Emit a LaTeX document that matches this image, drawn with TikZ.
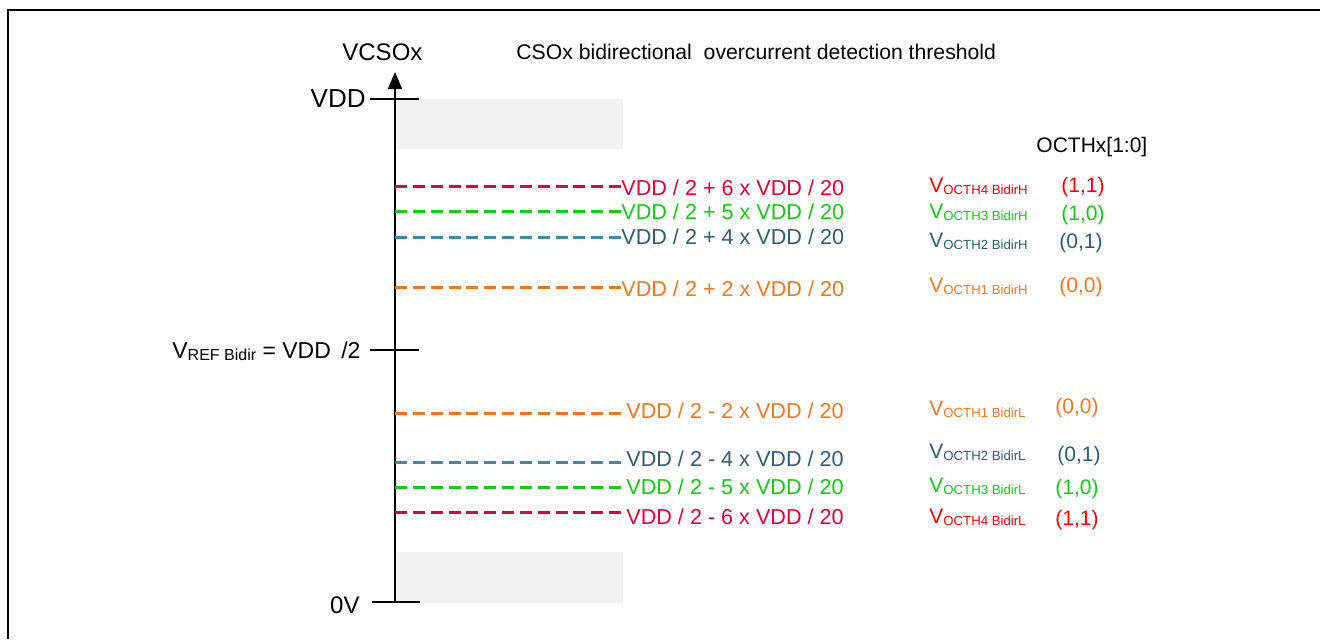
\documentclass[tikz,border=0pt]{standalone}
\usepackage{fontspec}
\setmainfont{Liberation Sans}
\usepackage{tikz}
\usetikzlibrary{arrows.meta}
\definecolor{octRed}{HTML}{E4003A}
\definecolor{octRedB}{HTML}{FF0000}
\definecolor{octGreen}{HTML}{11CC11}
\definecolor{octTeal}{HTML}{3A8CA3}
\definecolor{octTealT}{HTML}{2D5E6E}
\definecolor{octOrange}{HTML}{F07818}
\definecolor{octGrey}{HTML}{F2F2F2}
\newcommand{\octV}[1]{V\raisebox{-1.2pt}{\fontsize{6.6}{7}\selectfont OCTH#1}}

\begin{document}
\begin{tikzpicture}[x=0.5pt,y=-0.5pt, >=Stealth,
  valtxt/.style={anchor=base west,inner sep=0pt,font=\fontsize{10.8}{12}\selectfont},
  codetxt/.style={anchor=base west,inner sep=0pt,font=\fontsize{10.5}{12}\selectfont},
  thr/.style={line width=1.5pt,dash pattern=on 6pt off 2.92pt},
  axtick/.style={line width=0.75pt}]
\useasboundingbox (0,0) rectangle (1320,639);
% --- frame and grey bands ---
  \draw[line width=0.75pt] (8,639) -- (8,10) -- (1320,10);
  \fill[octGrey] (395,99) rectangle (623,149);
  \fill[octGrey] (395,552) rectangle (623,603);
% --- axis ---
  \coordinate (ax0) at (395,602);
  \coordinate (axtop) at (395,72);
  \draw[line width=0.75pt,-{Triangle[width=7pt,length=8.5pt]}] (ax0) -- (axtop);
  \draw[axtick] (370,99) -- (419,99);
  \draw[axtick] (370,350) -- (419,350);
  \draw[axtick] (372,602) -- (420,602);
  \node[anchor=base west,inner sep=0pt,font=\fontsize{12}{14}\selectfont] (vcso) at (342,60) {VCSOx};
  \node[anchor=base west,inner sep=0pt,font=\fontsize{10.6}{12}\selectfont] (title) at (516,59.5) {CSOx bidirectional\ \ overcurrent detection threshold};
  \node[anchor=base east,inner sep=0pt,font=\fontsize{13}{15}\selectfont] (vdd) at (366,107) {VDD};
  \node[anchor=base west,inner sep=0pt,font=\fontsize{11.5}{13}\selectfont] (vref) at (172,358)
    {V\raisebox{-1.2pt}{\fontsize{8}{9}\selectfont REF Bidir} = VDD\hspace{0.45em}/2};
  \node[anchor=base east,inner sep=0pt,font=\fontsize{12}{14}\selectfont] (zero) at (360,613) {0V};
% --- threshold levels ---
  \coordinate (h6) at (395,186);
  \coordinate (h5) at (395,211);
  \coordinate (h4) at (395,237);
  \coordinate (h2) at (395,287);
  \coordinate (l2) at (395,413);
  \coordinate (l4) at (395,462);
  \coordinate (l5) at (395,487);
  \coordinate (l6) at (395,512);
  \node[valtxt,text=octRed] (th6) at (621,195) {VDD / 2 + 6 x VDD / 20};
  \node[valtxt,text=octGreen] (th5) at (621,219) {VDD / 2 + 5 x VDD / 20};
  \node[valtxt,text=octTealT] (th4) at (621,244) {VDD / 2 + 4 x VDD / 20};
  \node[valtxt,text=octOrange] (th2) at (621,296) {VDD / 2 + 2 x VDD / 20};
  \node[valtxt,text=octOrange,inner xsep=2.5pt] (tl2) at (621,418) {VDD / 2 - 2 x VDD / 20};
  \node[valtxt,text=octTealT,inner xsep=2.5pt] (tl4) at (621,466) {VDD / 2 - 4 x VDD / 20};
  \node[valtxt,text=octGreen,inner xsep=2.5pt] (tl5) at (621,494) {VDD / 2 - 5 x VDD / 20};
  \node[valtxt,text=octRed,inner xsep=2.5pt] (tl6) at (621,524) {VDD / 2 - 6 x VDD / 20};
  \draw[thr,octRed] (h6) -- (h6 -| th6.west);
  \draw[thr,octGreen] (h5) -- (h5 -| th5.west);
  \draw[thr,octTeal] (h4) -- (h4 -| th4.west);
  \draw[thr,octOrange] (h2) -- (h2 -| th2.west);
  \draw[thr,octOrange] (l2) -- (l2 -| tl2.west);
  \draw[thr,octTeal] (l4) -- (l4 -| tl4.west);
  \draw[thr,octGreen] (l5) -- (l5 -| tl5.west);
  \draw[thr,octRed] (l6) -- (l6 -| tl6.west);
% --- register codes ---
  \node[codetxt] (octh) at (1036,152) {OCTHx[1:0]};
  \node[codetxt,text=octRedB] (vh4) at (929,192) {\octV{4 BidirH}};
  \node[codetxt,text=octGreen] (vh3) at (929,218) {\octV{3 BidirH}};
  \node[codetxt,text=octTealT] (vh2) at (929,247) {\octV{2 BidirH}};
  \node[codetxt,text=octOrange] (vh1) at (929,292) {\octV{1 BidirH}};
  \node[codetxt,text=octOrange] (vl1) at (929,415) {\octV{1 BidirL}};
  \node[codetxt,text=octTealT] (vl2) at (929,458) {\octV{2 BidirL}};
  \node[codetxt,text=octGreen] (vl3) at (929,492) {\octV{3 BidirL}};
  \node[codetxt,text=octRedB] (vl4) at (929,523) {\octV{4 BidirL}};
  \node[codetxt,text=octRedB] (ch4) at (1061,192.5) {(1,1)};
  \node[codetxt,text=octGreen] (ch3) at (1061,220.5) {(1,0)};
  \node[codetxt,text=octTealT] (ch2) at (1059,248.5) {(0,1)};
  \node[codetxt,text=octOrange] (ch1) at (1059,292.5) {(0,0)};
  \node[codetxt,text=octOrange] (cl1) at (1055,413) {(0,0)};
  \node[codetxt,text=octTealT] (cl2) at (1057,461) {(0,1)};
  \node[codetxt,text=octGreen] (cl3) at (1055,494) {(1,0)};
  \node[codetxt,text=octRedB] (cl4) at (1055,525) {(1,1)};
\end{tikzpicture}
\end{document}
